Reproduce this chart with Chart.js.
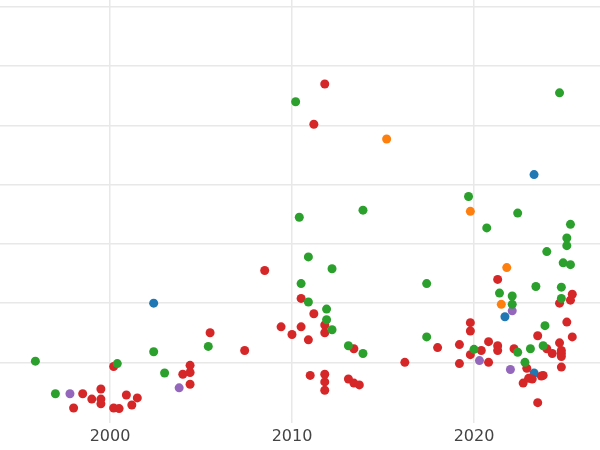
<!DOCTYPE html>
<html><head><meta charset="utf-8">
<script src="https://cdn.jsdelivr.net/npm/chart.js@4"></script>
<style>html,body{margin:0;padding:0;background:#fff}#w{width:600px;height:450px}</style>
</head><body><div id="w"><canvas id="c"></canvas></div>
<script>
const xTicks=[2000,2010,2020];
const yGrid=[1,2,3,4,5,6,7];
const green=[[1995.9,1.02],[1997.0,0.47],[2000.4,0.98],[2002.4,1.18],[2003.0,0.82],[2005.4,1.27],[2010.2,5.4],[2010.4,3.45],[2010.5,2.33],[2010.9,2.78],[2010.9,2.02],[2011.9,1.9],[2011.9,1.72],[2012.2,1.55],[2012.2,2.58],[2013.1,1.28],[2013.9,1.15],[2013.9,3.57],[2017.4,2.33],[2017.4,1.43],[2019.7,3.8],[2020.0,1.22],[2020.7,3.27],[2021.4,2.17],[2022.1,2.12],[2022.1,1.98],[2022.4,3.52],[2022.4,1.17],[2022.8,1.0],[2023.1,1.23],[2023.4,2.28],[2023.8,1.28],[2023.9,1.62],[2024.0,2.87],[2024.8,2.27],[2024.8,2.08],[2024.9,2.68],[2025.1,3.1],[2025.1,2.97],[2025.3,2.65],[2025.3,3.33],[2024.7,5.55]];
const red=[[2010.5,2.08],[2011.2,1.82],[2010.5,1.6],[2010.9,1.38],[2011.8,1.63],[2011.8,1.5],[2011.0,0.78],[2011.8,0.8],[2011.8,0.67],[2011.8,0.53],[2013.1,0.72],[2013.4,1.23],[2013.4,0.65],[2013.7,0.62],[2016.2,1.0],[2018.0,1.25],[2019.2,1.3],[2019.2,0.98],[2019.8,1.67],[2019.8,1.53],[2019.8,1.13],[2020.4,1.2],[2020.8,1.0],[2020.8,1.35],[2021.3,1.28],[2021.3,1.2],[2021.3,2.4],[2022.2,1.23],[2022.9,0.9],[2022.7,0.65],[2023.0,0.73],[2023.2,0.72],[2023.5,0.32],[2023.5,1.45],[2023.7,0.77],[2023.8,0.78],[2024.0,1.23],[2024.3,1.15],[2024.7,1.33],[2024.8,1.2],[2024.8,1.15],[2024.8,1.1],[2024.8,0.92],[2025.1,1.68],[2025.4,1.43],[2024.7,2.0],[2025.3,2.05],[2025.4,2.15],[2011.8,5.7],[2011.2,5.02],[2008.5,2.55],[2009.4,1.6],[2010.0,1.47],[2000.2,0.93],[1999.5,0.55],[1998.5,0.47],[1999.0,0.38],[1999.5,0.38],[1999.5,0.3],[1998.0,0.23],[2000.2,0.23],[2000.5,0.22],[2000.9,0.45],[2001.5,0.4],[2001.2,0.28],[2004.0,0.8],[2004.4,0.95],[2004.4,0.83],[2004.4,0.63],[2007.4,1.2],[2005.5,1.5]];
const purple=[[1997.8,0.47],[2003.8,0.57],[2020.3,1.03],[2022.0,0.88],[2022.1,1.87]];
const blue=[[2002.4,2.0],[2021.7,1.77],[2023.3,4.17],[2023.3,0.82]];
const orange=[[2015.2,4.77],[2019.8,3.55],[2021.8,2.6],[2021.5,1.98]];
const pts=a=>a.map(p=>({x:p[0],y:p[1]}));
const ds=(d,c)=>({data:pts(d),backgroundColor:c,borderColor:c,pointRadius:4.5,pointHoverRadius:4.5,borderWidth:0});
new Chart(document.getElementById('c'),{type:'scatter',
data:{datasets:[ds(green,'#2ca02c'),ds(red,'#d62728'),ds(purple,'#9467bd'),ds(blue,'#1f77b4'),ds(orange,'#ff7f0e')]},
options:{responsive:true,maintainAspectRatio:false,animation:false,layout:{padding:0,autoPadding:false},
plugins:{legend:{display:false},tooltip:{enabled:false}},
scales:{
x:{type:'linear',min:1993.956,max:2026.923,afterBuildTicks:s=>{s.ticks=xTicks.map(v=>({value:v}));},
grid:{color:'#e8e8e8',lineWidth:1.5,drawTicks:false},border:{display:false},
ticks:{padding:4,color:'#444',font:{family:'DejaVu Sans',size:16},maxRotation:0,callback:v=>String(v)}},
y:{min:-0.02,max:7.117,afterBuildTicks:s=>{s.ticks=yGrid.map(v=>({value:v}));},afterFit:s=>{s.width=0;},
grid:{color:'#e8e8e8',lineWidth:1.5,drawTicks:false},border:{display:false},ticks:{display:false}}
}}});
</script></body></html>
